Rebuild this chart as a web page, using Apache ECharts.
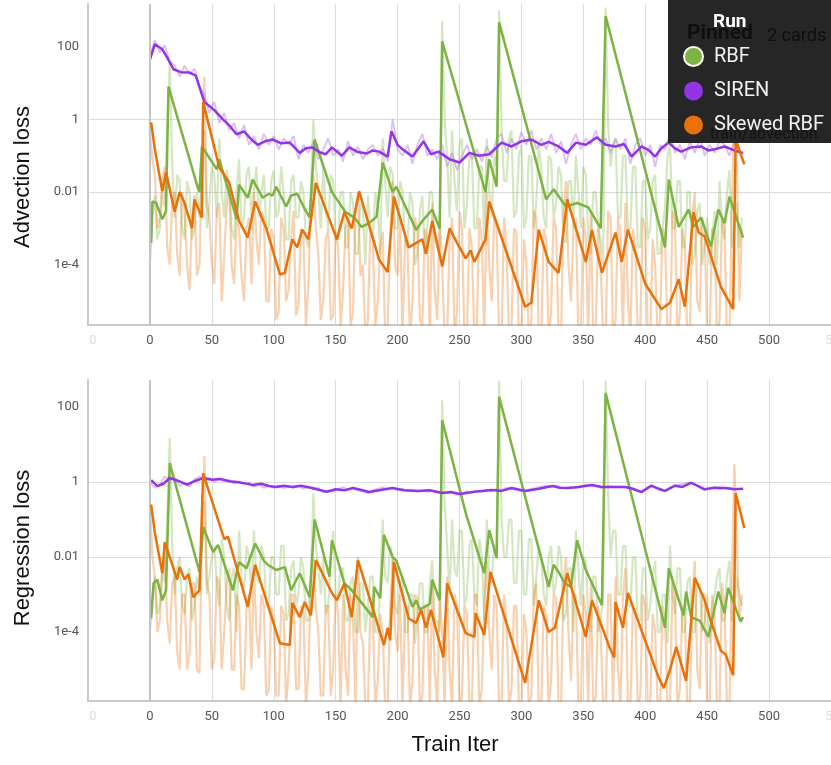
<!DOCTYPE html>
<html>
<head>
<meta charset="utf-8">
<script src="https://cdn.jsdelivr.net/npm/echarts@6/dist/echarts.min.js"></script>
<style>
html, body { margin: 0; padding: 0; background: #fff; }
#main { width: 831px; height: 765px; }
</style>
</head>
<body>
<div id="main"></div>
<script>
// steps where the raw (unsmoothed) runs are sampled
var rawIter = [0,4,8,12,16,20,24,28,32,36,
  40,44,48,52,56,60,64,68,72,76,
  80,84,88,92,96,100,104,108,112,116,
  120,124,128,132,136,140,144,148,152,156,
  160,164,168,172,176,180,184,188,192,196,
  200,204,208,212,216,220,224,228,232,236,
  240,244,248,252,256,260,264,268,272,276,
  280,284,288,292,296,300,304,308,312,316,
  320,324,328,332,336,340,344,348,352,356,
  360,364,368,372,376,380,384,388,392,396,
  400,404,408,412,416,420,424,428,432,436,
  440,444,448,452,456,460,464,468,472,476];
var rawIter2 = [0,2,4,6,8,10,12,14,16,18,20,22,24,26,28,30,32,34,36,38,
  40,42,44,46,48,50,52,54,56,58,60,62,64,66,68,70,72,74,76,78,
  80,82,84,86,88,90,92,94,96,98,100,102,104,106,108,110,112,114,116,118,
  120,122,124,126,128,130,132,134,136,138,140,142,144,146,148,150,152,154,156,158,
  160,162,164,166,168,170,172,174,176,178,180,182,184,186,188,190,192,194,196,198,
  200,202,204,206,208,210,212,214,216,218,220,222,224,226,228,230,232,234,236,238,
  240,242,244,246,248,250,252,254,256,258,260,262,264,266,268,270,272,274,276,278,
  280,282,284,286,288,290,292,294,296,298,300,302,304,306,308,310,312,314,316,318,
  320,322,324,326,328,330,332,334,336,338,340,342,344,346,348,350,352,354,356,358,
  360,362,364,366,368,370,372,374,376,378,380,382,384,386,388,390,392,394,396,398,
  400,402,404,406,408,410,412,414,416,418,420,422,424,426,428,430,432,434,436,438,
  440,442,444,446,448,450,452,454,456,458,460,462,464,466,468,470,472,474,476,478];

// ---- Advection loss (top) ----
var advRbf = [[1,4e-4],[2,5.5e-3],[5,5e-3],[10,1.8e-3],[13,3e-3],[15,8],[39,0.012],[40,0.01],[42,0.18],
  [54,0.042],[56,0.08],[70,1.8e-3],[72,0.016],[79,7e-3],[83,0.022],[91,7e-3],[96,9e-3],[99,8e-3],
  [102,0.014],[110,4e-3],[114,8e-3],[119,9e-3],[124,4e-3],[129,2e-3],[133,0.28],[147,0.01],[158,2.8e-3],
  [165,2e-3],[171,1.1e-3],[177,1.4e-3],[183,2.1e-3],[188,0.065],[196,0.01],[199,0.014],[215,9e-4],
  [220,1.6e-3],[228,3.3e-3],[234,1e-3],[236,140],[271,0.01],[274,0.08],[280,0.014],[282,470],
  [320,6.3e-3],[326,0.012],[336,4e-3],[345,5e-3],[354,3.8e-3],[364,1e-3],[368,700],[416,3e-4],
  [419,0.022],[427,1.1e-3],[435,3.3e-3],[439,1.1e-3],[445,2e-3],[453,3.2e-4],[459,3.3e-3],[464,1.4e-3],
  [468,7.5e-3],[479,5.6e-4]];
var advSiren = [[0,45],[4,117],[10,85],[14,50],[19,24],[25,20],[32,19.5],[37,16],[44,3],[52,1.8],[59,1],
  [65,0.63],[70,0.39],[76,0.47],[82,0.28],[87,0.2],[93,0.25],[99,0.28],[106,0.22],[113,0.23],[121,0.12],
  [126,0.16],[131,0.17],[137,0.126],[142,0.11],[147,0.17],[155,0.1],[161,0.17],[168,0.126],[175,0.115],
  [180,0.14],[185,0.13],[192,0.095],[195,0.47],[200,0.2],[204,0.15],[212,0.095],[221,0.25],[227,0.11],
  [233,0.13],[242,0.08],[250,0.065],[258,0.12],[266,0.1],[274,0.11],[284,0.23],[292,0.18],[300,0.25],
  [308,0.28],[316,0.2],[322,0.24],[330,0.18],[337,0.12],[344,0.23],[352,0.2],[361,0.32],[368,0.2],
  [376,0.18],[383,0.21],[389,0.095],[397,0.18],[403,0.14],[408,0.095],[413,0.16],[419,0.23],[424,0.16],
  [429,0.13],[437,0.17],[445,0.18],[451,0.14],[456,0.15],[464,0.18],[472,0.14],[479,0.12]];
var advSkew = [[1,0.83],[4,0.15],[10,0.0105],[13,0.035],[20,2.9e-3],[24,0.01],[28,5e-3],[34,1e-3],
  [36,6.3e-3],[42,2e-3],[43,3],[56,0.048],[60,0.03],[64,0.018],[72,1.6e-3],[79,5.6e-4],[85,5.5e-3],
  [94,1e-3],[105,5.4e-5],[109,6e-5],[115,5e-4],[119,3e-4],[123,9.3e-4],[128,5e-4],[134,0.018],[151,5e-4],
  [157,2.8e-3],[163,1e-3],[169,0.0105],[185,1.4e-4],[192,6.3e-5],[197,7.5e-3],[209,3e-4],[220,5e-4],
  [223,2e-4],[228,1.6e-3],[236,9e-5],[242,1e-3],[248,4e-4],[255,1.5e-4],[259,2.5e-4],[262,1.2e-4],
  [271,5e-4],[274,5.5e-3],[303,7e-6],[308,9e-6],[314,9.3e-4],[322,1.2e-4],[330,6e-5],[337,6.3e-3],
  [352,1.2e-4],[357,9e-4],[365,6e-5],[376,7.7e-4],[381,1.2e-4],[386,9.3e-4],[400,3e-5],[413,6e-6],
  [420,9e-6],[427,4e-5],[432,7e-6],[439,2.8e-3],[443,7.7e-4],[448,6e-4],[461,2.5e-5],[471,6e-6],
  [473,0.28],[480,0.058]];

var advRbfRaw = [1e-4,2e-3,8e-3,5e-4,1e-3,0.01,4e-3,0.5,40,0.05,2e-3,0.03,0.02,1e-3,5e-4,0.02,0.01,5e-4,1e-3,0.01,
  2e-3,0.03,0.5,1e-3,5e-3,0.05,0.03,2e-3,0.3,0.01,2e-3,0.04,0.02,1e-3,5e-4,0.01,0.08,1e-3,2e-3,0.03,
  0.05,2e-3,0.01,0.05,2e-3,0.01,0.03,1e-3,1e-3,0.02,0.04,2e-3,3e-3,0.05,0.01,5e-4,5e-4,0.02,0.03,2e-3,
  2e-3,0.02,0.01,5e-4,3e-4,0.01,1.0,0.05,0.01,1e-3,0.05,3e-3,1e-3,0.03,0.02,5e-4,5e-4,0.01,0.01,3e-4,
  3e-4,0.01,5e-3,2e-4,2e-4,5e-3,3e-3,1e-4,8e-3,1e-3,5e-4,0.01,4e-3,2e-4,0.3,0.02,2e-3,0.05,0.03,1e-3,
  1e-3,0.02,0.01,5e-4,3e-4,0.01,5e-3,1e-4,2e-4,3e-3,8e-3,2e-4,1e-3,0.01,0.01,5e-4,3e-4,2e-4,500,1.0,
  0.1,2e-3,0.5,0.02,3e-3,0.2,0.3,1e-3,5e-3,0.1,0.1,1e-3,1e-3,0.05,0.05,5e-4,0.3,0.01,2e-3,0.1,
  0.05,1000,0.5,0.02,0.02,0.3,0.5,2e-3,3e-3,0.1,0.2,1e-3,2e-3,0.1,0.1,1e-3,5e-3,0.2,0.05,2e-3,
  1e-3,0.1,0.08,2e-3,5e-3,0.05,0.03,5e-4,4e-4,0.02,0.02,1e-3,0.1,0.01,1e-3,0.05,0.03,5e-4,2e-4,0.01,
  0.01,1e-3,5e-4,1e-4,1200,0.8,0.05,0.2,0.3,2e-3,2e-3,0.1,0.1,1e-3,1e-3,0.05,0.05,3e-4,3e-4,0.02,
  0.02,5e-4,1e-3,0.02,0.03,2e-4,2e-4,1e-3,4e-3,0.1,0.2,1e-3,1e-3,0.02,0.02,3e-4,3e-4,0.01,0.01,1e-4,
  2e-4,3e-3,5e-3,1e-4,4e-4,2e-3,1e-4,5e-4,3e-3,1e-4,0.02,1e-3,5e-4,0.01,0.04,3e-4,1e-3,5e-3,3e-4,2e-3];
var advSirenRaw = [60,150,70,110,40,30,15,30,18,25,
  8,5,1.5,3,0.8,1.5,0.5,0.8,0.3,0.7,
  0.2,0.35,0.15,0.4,0.2,0.35,0.15,0.3,0.2,0.35,
  0.08,0.2,0.12,0.25,0.08,0.15,0.3,0.1,0.15,0.07,
  0.25,0.1,0.18,0.08,0.15,0.2,0.1,0.16,0.07,1.0,
  0.15,0.1,0.2,0.06,0.2,0.4,0.1,0.15,0.08,0.2,
  0.05,0.12,0.04,0.1,0.2,0.08,0.15,0.07,0.18,0.09,
  0.3,0.4,0.12,0.3,0.15,0.45,0.2,0.5,0.15,0.3,
  0.15,0.4,0.12,0.25,0.06,0.2,0.4,0.15,0.3,0.2,
  0.5,0.2,0.3,0.12,0.3,0.15,0.3,0.06,0.2,0.3,
  0.1,0.2,0.05,0.2,0.15,0.4,0.12,0.2,0.08,0.25,
  0.12,0.3,0.1,0.2,0.12,0.25,0.2,0.1,0.25,0.12];
var advSkewRaw = [0.5,0.08,0.03,1e-3,2e-3,0.02,0.05,3e-4,1e-4,5e-3,0.01,2e-4,5e-5,0.01,3e-3,1e-4,2e-5,2e-3,8e-3,5e-5,
  1e-4,0.1,15,5e-3,2e-3,1e-4,3e-5,3e-3,5e-3,1e-5,2e-4,4e-3,0.02,1e-4,3e-5,2e-3,1e-3,5e-5,1e-5,1e-3,
  2e-3,3e-5,0.01,5e-4,1e-4,3e-3,2e-3,1e-5,1e-5,1e-3,5e-4,3e-6,5e-6,2e-3,1e-3,1e-5,2e-5,5e-4,3e-3,4e-6,
  8e-6,1e-3,5e-4,2e-6,3e-5,5e-3,0.03,1e-3,2e-4,3e-6,1e-5,5e-4,1e-3,3e-6,4e-6,8e-4,3e-4,2e-6,2e-5,1e-3,
  2e-3,2e-6,5e-6,3e-3,0.01,5e-5,1e-4,1e-6,3e-6,1e-3,5e-4,2e-6,1e-5,3e-4,8e-4,1e-6,2e-6,5e-4,0.02,1e-4,
  5e-5,2e-3,1e-6,5e-4,3e-4,1e-6,1e-5,2e-3,1e-3,3e-6,2e-6,1e-3,5e-4,1e-6,5e-3,2e-5,3e-6,2e-3,1e-4,1e-6,
  1e-6,5e-4,2e-3,1e-6,5e-6,3e-3,1e-3,1e-6,1e-6,1e-3,3e-4,1e-6,2e-6,2e-3,5e-4,1e-6,0.01,1e-4,1e-5,2e-3,
  1e-3,1e-6,1e-6,2e-3,3e-4,1e-6,2e-6,1e-3,8e-4,1e-6,1e-6,5e-4,1e-4,1e-6,3e-6,3e-3,2e-3,1e-6,1e-6,1e-3,
  5e-4,1e-6,5e-6,2e-3,1e-3,1e-6,1e-6,3e-3,0.02,1e-4,1e-5,1e-3,2e-3,1e-6,1e-6,2e-3,5e-4,1e-6,3e-3,1e-6,
  2e-6,1e-3,1e-4,1e-6,1e-6,3e-3,2e-3,1e-6,3e-6,2e-3,8e-4,1e-6,5e-3,1e-5,1e-6,1e-3,3e-4,1e-6,2e-6,2e-3,
  1e-3,1e-6,1e-6,5e-4,1e-4,1e-6,3e-6,1e-3,5e-4,1e-6,1e-6,3e-3,2e-3,1e-6,5e-6,1e-3,3e-4,1e-6,1e-6,2e-3,
  0.01,1e-5,5e-6,2e-3,1e-3,1e-6,1e-6,1e-3,5e-4,1e-6,3e-6,2e-3,1e-3,1e-6,1e-6,5e-3,2,0.05,1e-5,1e-3];

// ---- Regression loss (bottom) ----
var regRbf = [[1,2.3e-4],[3,2e-3],[6,2.5e-3],[10,7e-4],[13,1.3e-3],[16,3.2],[39,5.4e-3],[40,4e-3],
  [43,0.063],[51,0.0135],[55,0.021],[67,1.3e-3],[72,7.4e-3],[78,5e-3],[85,0.023],[92,8e-3],[95,6.3e-3],
  [102,4.5e-3],[109,5.4e-3],[114,1.3e-3],[121,3.7e-3],[129,8.5e-4],[133,0.1],[145,3e-3],[147,0.028],
  [157,2e-3],[163,1.3e-3],[171,6e-4],[180,2.5e-4],[181,1.6e-3],[186,8e-4],[189,0.039],[196,0.01],
  [199,8e-3],[212,4.7e-4],[215,7e-4],[218,4e-4],[226,5.6e-4],[228,2.5e-3],[234,7e-4],[236,45],
  [255,0.15],[270,3.7e-3],[274,0.052],[280,9.3e-3],[282,186],[322,1.6e-3],[326,6.2e-3],[330,4e-3],
  [335,2e-3],[340,1.6e-3],[345,0.028],[352,4.5e-3],[357,2e-3],[365,5.2e-4],[368,235],[416,1.3e-4],
  [419,5e-3],[431,2.8e-4],[433,1.2e-3],[437,2.5e-4],[444,2e-4],[451,7.4e-5],[459,1.2e-3],[464,3.2e-4],
  [467,1.5e-3],[477,1.9e-4],[479,2.5e-4]];
var regSiren = [[1,1.13],[6,0.78],[11,0.9],[16,1.28],[22,1.1],[30,0.85],[36,1.05],[43,1.28],[50,1.15],
  [57,1.2],[64,1.05],[70,1.0],[77,0.92],[83,0.83],[90,0.9],[96,0.78],[102,0.74],[108,0.8],[115,0.74],
  [122,0.8],[131,0.69],[137,0.61],[143,0.55],[150,0.64],[157,0.6],[164,0.69],[170,0.62],[177,0.54],
  [185,0.6],[196,0.69],[205,0.6],[217,0.58],[226,0.6],[236,0.51],[243,0.54],[250,0.48],[262,0.55],
  [276,0.61],[284,0.58],[292,0.69],[303,0.58],[314,0.66],[325,0.78],[331,0.7],[338,0.69],[346,0.74],
  [357,0.83],[365,0.74],[373,0.74],[384,0.74],[390,0.66],[397,0.54],[405,0.8],[411,0.66],[416,0.58],
  [424,0.8],[430,0.74],[437,0.95],[442,0.8],[448,0.64],[456,0.7],[464,0.69],[472,0.64],[479,0.66]];
var regSkew = [[1,0.25],[4,0.044],[10,3.7e-3],[12,0.025],[22,2.5e-3],[24,5.4e-3],[28,2.5e-3],[31,3.5e-3],
  [35,8.5e-4],[40,1.3e-3],[43,1.7],[60,0.03],[63,0.035],[79,4.7e-4],[85,6.2e-3],[105,5e-5],[113,4.5e-5],
  [115,6e-4],[121,2.5e-4],[125,6.3e-4],[130,2.8e-4],[134,8.3e-3],[147,1.1e-3],[151,7e-4],[157,2e-3],
  [163,2.5e-4],[168,8.3e-3],[189,4.5e-5],[192,1.3e-4],[194,6e-5],[197,7.4e-3],[209,2.3e-4],[215,1.75e-4],
  [219,3.9e-4],[223,1.3e-4],[227,3.9e-4],[237,2.1e-5],[240,2e-3],[255,9.3e-5],[262,7.4e-5],[263,3.2e-4],
  [270,8.3e-5],[275,4e-3],[303,4.4e-6],[314,7e-4],[322,1e-4],[327,1.3e-4],[337,3.7e-3],[352,7.4e-5],
  [357,7e-4],[367,9.3e-5],[371,4e-5],[375,2.1e-5],[376,6.3e-4],[382,1.3e-4],[386,1.1e-3],[411,5.9e-6],
  [415,3.2e-6],[420,1e-5],[425,4e-5],[433,5e-6],[440,2.8e-3],[448,7e-4],[452,2.5e-4],[461,3.2e-5],
  [465,2.5e-5],[471,7e-6],[473,0.51],[480,0.059]];

var regRbfRaw = [1e-4,1e-3,3e-3,3e-4,5e-4,5e-3,2e-3,0.1,15,0.02,1e-3,5e-3,0.01,5e-4,3e-4,3e-3,5e-3,2e-4,5e-4,3e-3,
  1e-3,0.02,0.3,1e-3,3e-3,0.01,0.02,2e-3,5e-4,0.03,0.01,5e-4,2e-4,3e-3,5e-3,1e-4,0.05,3e-3,1e-3,0.02,
  0.01,1e-3,0.05,3e-3,2e-3,0.02,0.01,5e-4,5e-4,0.01,0.01,1e-3,1e-3,0.02,0.02,2e-4,3e-4,5e-3,8e-3,5e-4,
  1e-3,0.01,5e-3,2e-4,2e-4,3e-3,0.5,0.02,5e-3,1e-3,0.01,3e-4,5e-4,0.01,0.05,1e-3,1e-3,5e-3,5e-3,2e-4,
  2e-4,2e-3,3e-3,1e-4,1e-4,2e-3,2e-3,1e-4,5e-4,3e-3,3e-3,1e-4,1e-4,2e-3,0.1,3e-3,2e-3,0.02,0.01,5e-4,
  3e-4,2e-3,3e-3,1e-4,1e-4,1e-3,1e-3,5e-5,3e-4,2e-3,2e-3,1e-4,1e-4,2e-3,8e-3,2e-4,2e-4,1e-4,150,0.3,
  0.02,1e-3,0.1,5e-3,3e-3,0.05,0.05,5e-4,1e-3,0.02,0.03,1e-3,5e-4,0.03,0.01,2e-4,0.1,3e-3,2e-3,0.02,
  0.02,500,0.1,0.01,0.01,0.1,0.1,2e-3,2e-3,0.05,0.05,1e-3,1e-3,0.03,0.03,5e-4,3e-3,0.02,0.01,1e-3,
  5e-4,0.01,0.02,1e-3,2e-3,0.02,0.01,2e-4,3e-4,5e-3,5e-3,1e-4,0.05,5e-3,5e-4,0.01,8e-3,2e-4,1e-4,3e-3,
  3e-3,1e-4,2e-4,1e-3,500,0.5,0.01,0.05,0.05,1e-3,1e-3,0.02,0.02,5e-4,5e-4,0.01,0.01,2e-4,2e-4,5e-3,
  5e-3,2e-4,5e-4,3e-3,8e-3,1e-4,1e-4,1e-3,1e-3,5e-5,0.02,1e-3,3e-4,5e-3,5e-3,1e-4,1e-4,2e-3,3e-3,1e-4,
  1e-4,2e-3,2e-3,1e-4,2e-4,1e-3,5e-5,5e-4,1e-3,3e-3,5e-3,2e-4,2e-4,3e-3,8e-3,2e-4,5e-4,3e-3,1e-3,5e-4];
var regSirenRaw = [1.0,0.7,0.85,1.4,1.1,1.3,0.8,0.95,0.75,1.2,
  1.4,1.1,1.3,1.0,1.25,1.05,1.15,0.9,1.05,0.85,
  0.95,0.75,0.85,0.7,0.8,0.7,0.82,0.68,0.78,0.7,
  0.8,0.66,0.74,0.64,0.7,0.52,0.6,0.55,0.66,0.72,
  0.62,0.7,0.6,0.55,0.5,0.6,0.66,0.72,0.64,0.7,
  0.6,0.66,0.58,0.62,0.55,0.6,0.55,0.58,0.52,0.55,
  0.5,0.52,0.46,0.5,0.56,0.52,0.58,0.55,0.62,0.58,
  0.66,0.62,0.7,0.66,0.62,0.56,0.6,0.66,0.7,0.75,
  0.8,0.74,0.82,0.72,0.68,0.74,0.7,0.78,0.84,0.8,
  0.76,0.7,0.74,0.78,0.72,0.76,0.72,0.68,0.6,0.56,
  0.66,0.78,0.7,0.6,0.56,0.7,0.8,0.86,0.9,0.98,
  0.88,0.7,0.62,0.68,0.72,0.66,0.7,0.72,0.64,0.66];
var regSkewRaw = [0.3,0.01,3e-3,1e-4,2e-4,5e-3,0.01,2e-4,5e-5,2e-3,3e-3,3e-5,1e-5,1e-3,1e-3,1e-5,3e-5,2e-3,2e-3,1e-5,
  8e-6,0.05,5,2e-3,1e-3,1e-5,2e-5,3e-3,2e-3,1e-5,1e-4,2e-3,5e-3,1e-5,1e-5,1e-3,5e-4,3e-6,3e-6,5e-4,
  1e-3,1e-5,5e-3,1e-4,2e-5,1e-3,5e-4,2e-6,3e-6,5e-4,2e-4,2e-6,2e-6,5e-4,3e-4,1e-6,1e-5,1e-3,1e-3,3e-6,
  3e-6,5e-4,3e-4,1e-6,1e-5,2e-3,0.01,5e-4,1e-4,2e-6,2e-6,5e-4,5e-4,2e-6,1e-5,1e-3,3e-4,1e-6,1e-3,1e-5,
  2e-6,1e-3,2e-4,1e-6,0.01,1e-4,5e-5,1e-6,1e-6,5e-4,3e-4,1e-6,5e-6,3e-4,1e-4,1e-6,1e-6,5e-4,0.01,1e-4,
  3e-5,1e-3,1e-6,3e-4,5e-4,1e-6,5e-6,1e-3,8e-4,1e-6,2e-6,5e-4,5e-4,1e-6,2e-3,1e-5,1e-6,1e-3,1e-4,1e-6,
  3e-3,1e-5,1e-6,1e-3,5e-4,1e-6,2e-6,5e-4,3e-4,1e-6,1e-6,1e-3,1e-3,1e-6,3e-6,5e-4,8e-3,1e-4,1e-5,1e-3,
  5e-4,1e-6,1e-6,1e-3,2e-4,1e-6,3e-6,5e-4,5e-4,1e-6,1e-6,3e-4,1e-4,1e-6,2e-6,1e-3,2e-3,1e-6,1e-6,5e-4,
  3e-4,1e-6,5e-6,1e-3,8e-4,1e-6,1e-6,2e-3,0.01,1e-4,5e-6,1e-3,1e-3,1e-6,1e-6,1e-3,3e-4,1e-6,2e-3,1e-6,
  2e-6,5e-4,1e-4,1e-6,1e-6,1e-3,1e-3,1e-6,3e-3,1e-5,1e-6,1e-3,5e-3,1e-6,1e-6,5e-4,3e-4,1e-6,2e-6,1e-3,
  5e-4,1e-6,1e-6,3e-4,1e-4,1e-6,1e-6,5e-4,2e-4,1e-6,1e-6,2e-3,1e-3,1e-6,3e-6,5e-4,2e-4,1e-6,1e-6,1e-3,
  8e-3,1e-5,3e-6,1e-3,1e-3,1e-6,1e-6,1e-3,3e-4,1e-6,1e-6,2e-3,5e-4,1e-6,1e-6,3e-3,3,0.02,2e-4,1e-3];

// tick labels
var yTickValues = [1e-4, 0.01, 1, 100];
var yTickLabels = { '-4': '1e-4', '-2': '0.01', '0': '1', '2': '100' };
var xFaintLabels = { '-50': '0', '550': '550' };

var GREEN = '#7cb342', PURPLE = '#9334e6', ORANGE = '#e8710a';

var dom = document.getElementById('main');
var myChart = echarts.init(dom);

function zip(xs, ys) {
    return xs.map(function (x, i) { return [x, ys[i]]; });
}

function yLabel(v) {
    var e = Math.log10(v);
    var r = Math.round(e);
    if (Math.abs(e - r) > 0.01) return '';
    return yTickLabels[r] || '';
}

function xLabel(v) {
    if (xFaintLabels[v] !== undefined) return '{f|' + xFaintLabels[v] + '}';
    return String(v);
}

function rawLine(name, idx, xs, ys, color, width, zeroLine) {
    var s = {
        name: name, type: 'line', xAxisIndex: idx, yAxisIndex: idx,
        data: zip(xs, ys), symbol: 'none', silent: true, z: 1,
        lineStyle: { color: color, width: width, opacity: 0.32 }
    };
    if (zeroLine) {
        s.markLine = {
            silent: true, symbol: ['none', 'none'], label: { show: false },
            lineStyle: { color: '#c4c4c4', width: 2, type: 'solid', opacity: 1 },
            data: [{ xAxis: 0 }]
        };
    }
    return s;
}

function smoothLine(name, idx, data, color, z) {
    return {
        name: name, type: 'line', xAxisIndex: idx, yAxisIndex: idx,
        data: data, symbol: 'circle', showSymbol: false, silent: true, z: z,
        itemStyle: { color: color },
        lineStyle: { color: color, width: 2.5 }
    };
}

function xAxisOf(idx) {
    return {
        type: 'value', gridIndex: idx, min: -50, max: 550, interval: 50,
        axisLine: { show: true, onZero: false, lineStyle: { color: '#c8c8c8', width: 2 } },
        axisTick: { show: false },
        splitLine: { show: true, showMinLine: false, showMaxLine: false, lineStyle: { color: '#dcdcdc', width: 1 } },
        axisLabel: {
            margin: 9, color: '#555', fontSize: 13, fontFamily: 'Roboto', formatter: xLabel,
            rich: { f: { color: '#dedede', fontSize: 13, fontFamily: 'Roboto', padding: [0, 0, 0, 10] } }
        }
    };
}

function yAxisOf(idx, min, max) {
    return {
        type: 'log', logBase: 10, gridIndex: idx, min: min, max: max,
        axisLine: { show: true, onZero: false, lineStyle: { color: '#c8c8c8', width: 2 } },
        axisTick: { show: false, customValues: yTickValues },
        splitLine: { show: true, showMinLine: false, showMaxLine: false, lineStyle: { color: '#dcdcdc', width: 1 } },
        axisLabel: {
            customValues: yTickValues, margin: 9,
            color: '#555', fontSize: 13, fontFamily: 'Roboto', formatter: yLabel
        }
    };
}

var titleFont = { fontSize: 22, fontFamily: 'Liberation Sans', fill: '#111', align: 'center', verticalAlign: 'middle' };

option = {
    animation: false,
    grid: [
        { left: 88, right: 0, top: 4, height: 321, outerBoundsMode: 'none' },
        { left: 88, right: 0, top: 380, height: 321, outerBoundsMode: 'none' }
    ],
    xAxis: [xAxisOf(0), xAxisOf(1)],
    yAxis: [yAxisOf(0, 2.2e-6, 1500), yAxisOf(1, 1.45e-6, 525)],
    legend: {
        orient: 'vertical', left: 683, top: 46, padding: 0, itemGap: 14,
        itemWidth: 19, itemHeight: 19, icon: 'circle', selectedMode: false, z: 20,
        textStyle: { color: '#f1f1f1', fontSize: 20, fontFamily: 'Roboto', padding: [0, 0, 0, 6] },
        data: [
            { name: 'RBF', itemStyle: { borderColor: '#ffffff', borderWidth: 2 } },
            { name: 'SIREN' },
            { name: 'Skewed RBF' }
        ]
    },
    graphic: [
        { type: 'text', x: 23, y: 177, rotation: Math.PI / 2, style: Object.assign({ text: 'Advection loss' }, titleFont) },
        { type: 'text', x: 23, y: 548, rotation: Math.PI / 2, style: Object.assign({ text: 'Regression loss' }, titleFont) },
        { type: 'text', x: 455, y: 745, style: Object.assign({ text: 'Train Iter' }, titleFont) },
        { type: 'rect', z: 10, shape: { x: 668, y: 0, width: 163, height: 143 }, style: { fill: '#262626' } },
        { type: 'text', z: 11, x: 687, y: 34, style: { text: 'Pinned', fontSize: 21, fontWeight: 'bold', fontFamily: 'Roboto', fill: '#0f0f0f', verticalAlign: 'middle' } },
        { type: 'text', z: 11, x: 767, y: 36, style: { text: '2 cards', fontSize: 18, fontFamily: 'Roboto', fill: '#0f0f0f', verticalAlign: 'middle' } },
        { type: 'text', z: 11, x: 710, y: 135, style: { text: 'train/advection', fontSize: 16, fontFamily: 'Roboto', fill: '#141414', verticalAlign: 'middle' } },
        { type: 'text', z: 30, x: 713, y: 22, style: { text: 'Run', fontSize: 19, fontWeight: 'bold', fontFamily: 'Roboto', fill: '#ffffff', verticalAlign: 'middle' } }
    ],
    series: [
        rawLine('SIREN raw', 0, rawIter, advSirenRaw, PURPLE, 1.8, true),
        rawLine('RBF raw', 0, rawIter2, advRbfRaw, GREEN, 2.2),
        rawLine('Skewed RBF raw', 0, rawIter2, advSkewRaw, ORANGE, 2.2),
        smoothLine('RBF', 0, advRbf, GREEN, 3),
        smoothLine('SIREN', 0, advSiren, PURPLE, 4),
        smoothLine('Skewed RBF', 0, advSkew, ORANGE, 5),

        rawLine('SIREN raw', 1, rawIter, regSirenRaw, PURPLE, 1.8, true),
        rawLine('RBF raw', 1, rawIter2, regRbfRaw, GREEN, 2.2),
        rawLine('Skewed RBF raw', 1, rawIter2, regSkewRaw, ORANGE, 2.2),
        smoothLine('RBF', 1, regRbf, GREEN, 3),
        smoothLine('SIREN', 1, regSiren, PURPLE, 4),
        smoothLine('Skewed RBF', 1, regSkew, ORANGE, 5)
    ]
};

if (option && typeof option === 'object') {
    myChart.setOption(option, true);
    window.onresize = myChart.resize;
}
</script>
</body>
</html>
